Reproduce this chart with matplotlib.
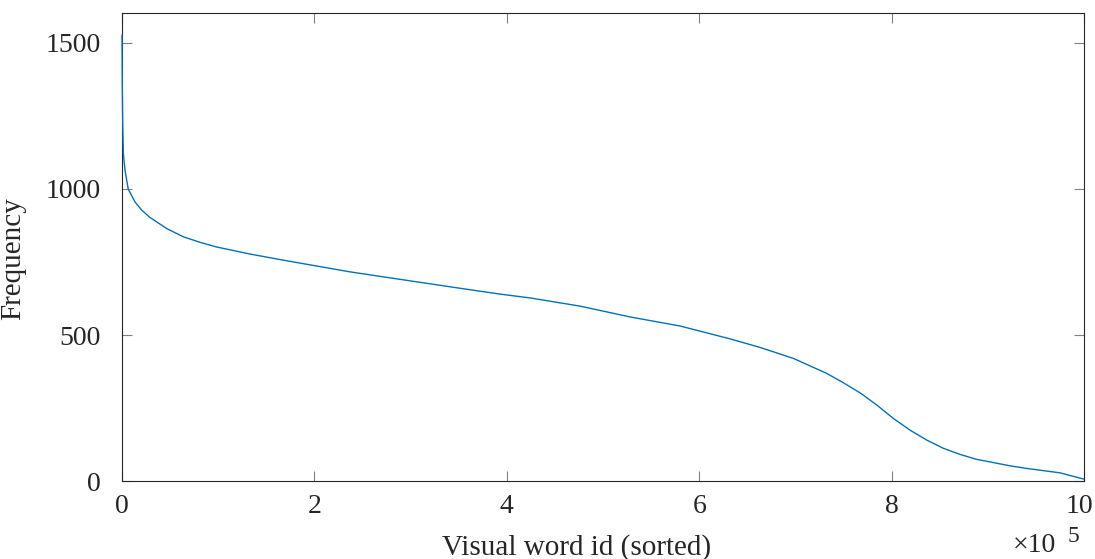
import matplotlib
matplotlib.use('Agg')
import matplotlib.pyplot as plt
import matplotlib.transforms as mtransforms
import numpy as np

# sorted visual word frequencies
word_id = [0, 300, 700, 1400, 3100, 6500, 13500, 20500, 29100, 46500,
           63700, 81100, 98400, 133000, 167700, 202400, 237000, 271600,
           306300, 341000, 372000, 393000, 424000, 476000, 528000, 580000,
           632000, 663000, 680500, 698000, 732500, 749800, 767900, 784500,
           801800, 819100, 836500, 853700, 871100, 888400, 905800, 923000,
           940400, 975000, 999300]
frequency = [1525, 1348, 1234, 1121, 1064, 999, 955, 927, 902, 864,
             836, 817, 801, 777, 756, 736, 716, 699,
             682, 665, 650, 640, 627, 599, 562, 531,
             487, 458, 439, 420, 369, 337, 301, 261,
             215, 175, 141, 113, 92, 75, 64, 53,
             44, 29, 8]

x_ticks = [0, 2e5, 4e5, 6e5, 8e5, 10e5]
x_tick_labels = ['0', '2', '4', '6', '8', '10']
y_ticks = [0, 500, 1000, 1500]

txt_col = '#262626'
plt.rcParams['font.family'] = ['Liberation Serif', 'DejaVu Serif']
plt.rcParams['font.size'] = 20

fig = plt.figure(figsize=(10.95, 5.59), dpi=100)
ax = fig.add_axes([122/1095, 1-481.3/559, (1084-122)/1095, (481.3-13.3)/559])

ax.plot(word_id, frequency, color='#0072BD', lw=1.0, zorder=3, clip_on=False)

ax.set_xlim(0, 1e6)
ax.set_ylim(0, 1600)
ax.set_xticks(x_ticks)
ax.set_xticklabels(x_tick_labels)
ax.set_yticks(y_ticks)

ax.tick_params(direction='in', top=True, right=True, length=7.2, width=0.8,
               color='#808080', labelcolor=txt_col, labelsize=20)
ax.tick_params(axis='x', pad=9)
ax.tick_params(axis='y', pad=15)
for sp in ax.spines.values():
    sp.set_color(txt_col)
    sp.set_linewidth(0.8)

# keep the last x label inside the figure
last = ax.get_xticklabels()[-1]
last.set_transform(last.get_transform() +
                   mtransforms.ScaledTranslation(-5/100, 0, fig.dpi_scale_trans))

ax.set_xlabel('Visual word id (sorted)', color=txt_col, fontsize=21)
ax.xaxis.set_label_coords((577-122)/962, -0.112)
ax.set_ylabel('Frequency', color=txt_col, fontsize=21)
ax.yaxis.set_label_coords(-0.10, 0.477)

# MATLAB style exponent under the axis
fig.text(1013/1095, 1-552/559, '\u00d710', color=txt_col, fontsize=20, va='baseline')
fig.text(1068/1095, 1-542/559, '5', color=txt_col, fontsize=17, va='baseline')

fig.savefig('out.png', dpi=100)
